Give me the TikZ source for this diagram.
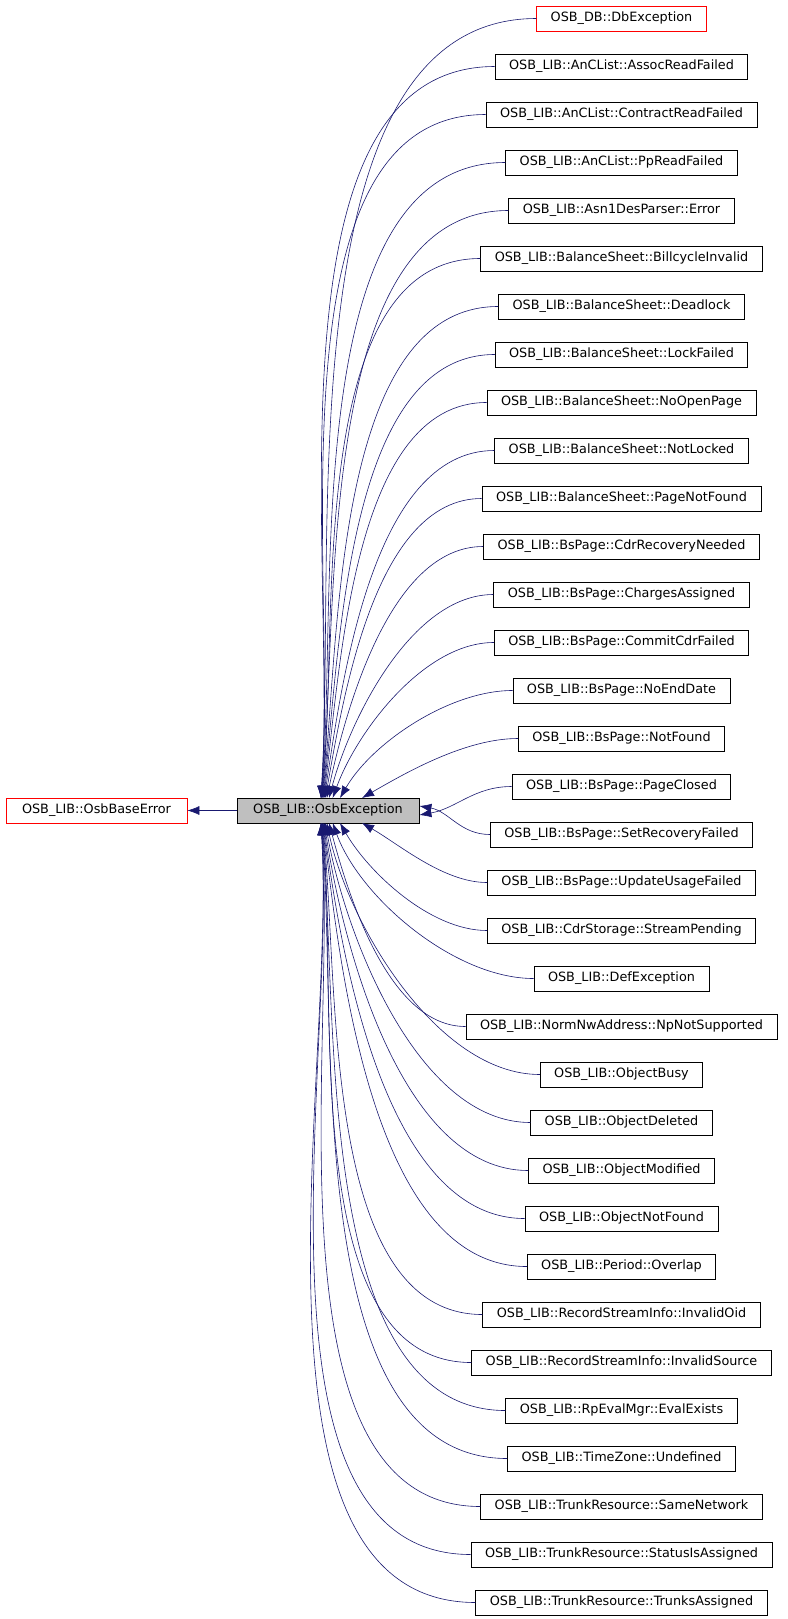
\documentclass[tikz,border=0pt]{standalone}
\usepackage{fontspec}
\setmainfont{DejaVu Sans}
\usetikzlibrary{arrows.meta}
\definecolor{edgec}{HTML}{191970}
\begin{document}
\begin{tikzpicture}[x=1pt,y=-1pt,
  cls/.style={draw=black,fill=white,minimum height=25pt,inner xsep=14pt,inner ysep=0pt,font=\fontsize{12.8}{14}\selectfont,line width=0.8pt},
  redcls/.style={cls,draw=red},
  edge/.style={draw=edgec,line width=0.6pt,{Latex[length=12pt,width=9pt]}-}]
\useasboundingbox (0,0) rectangle (787,1619);
\node[cls,fill=black!25,minimum width=182pt] (osb) at (328,810.5) {OSB\_LIB::OsbException};
\node[redcls,minimum width=181pt] (base) at (96.5,810.5) {OSB\_LIB::OsbBaseError};
\draw[edge] (base) -- (osb);
\foreach \k/\t in {1/OSB\_DB::DbException,
2/OSB\_LIB::AnCList::AssocReadFailed,
3/OSB\_LIB::AnCList::ContractReadFailed,
4/OSB\_LIB::AnCList::PpReadFailed,
5/OSB\_LIB::Asn1DesParser::Error,
6/OSB\_LIB::BalanceSheet::BillcycleInvalid,
7/OSB\_LIB::BalanceSheet::Deadlock,
8/OSB\_LIB::BalanceSheet::LockFailed,
9/OSB\_LIB::BalanceSheet::NoOpenPage,
10/OSB\_LIB::BalanceSheet::NotLocked,
11/OSB\_LIB::BalanceSheet::PageNotFound,
12/OSB\_LIB::BsPage::CdrRecoveryNeeded,
13/OSB\_LIB::BsPage::ChargesAssigned,
14/OSB\_LIB::BsPage::CommitCdrFailed,
15/OSB\_LIB::BsPage::NoEndDate,
16/OSB\_LIB::BsPage::NotFound,
17/OSB\_LIB::BsPage::PageClosed,
18/OSB\_LIB::BsPage::SetRecoveryFailed,
19/OSB\_LIB::BsPage::UpdateUsageFailed,
20/OSB\_LIB::CdrStorage::StreamPending,
21/OSB\_LIB::DefException,
22/OSB\_LIB::NormNwAddress::NpNotSupported,
23/OSB\_LIB::ObjectBusy,
24/OSB\_LIB::ObjectDeleted,
25/OSB\_LIB::ObjectModified,
26/OSB\_LIB::ObjectNotFound,
27/OSB\_LIB::Period::Overlap,
28/OSB\_LIB::RecordStreamInfo::InvalidOid,
29/OSB\_LIB::RecordStreamInfo::InvalidSource,
30/OSB\_LIB::RpEvalMgr::EvalExists,
31/OSB\_LIB::TimeZone::Undefined,
32/OSB\_LIB::TrunkResource::SameNetwork,
33/OSB\_LIB::TrunkResource::StatusIsAssigned,
34/OSB\_LIB::TrunkResource::TrunksAssigned}{
  \pgfmathsetmacro{\yy}{18.5+(\k-1)*48}
  \ifnum\k=1
    \node[redcls] (c\k) at (621.5,\yy) {\t};
  \else
    \node[cls] (c\k) at (621.5,\yy) {\t};
  \fi
  \ifnum\k<17
    \pgfmathsetmacro{\dd}{17-\k}
    \pgfmathsetmacro{\xe}{318+44/\dd}
    \pgfmathsetmacro{\oa}{90-60/\dd}
    \coordinate (e\k) at (\xe,798);
    \draw[edge] (e\k) to[in=180,out=\oa,looseness=0.8] (c\k.west);
  \else\ifnum\k=17
    \draw[edge] ([yshift=-4.5pt]osb.east) to[out=10,in=180] (c\k.west);
  \else\ifnum\k=18
    \draw[edge] ([yshift=4.5pt]osb.east) to[out=-10,in=180] (c\k.west);
  \else
    \pgfmathsetmacro{\dd}{\k-18}
    \pgfmathsetmacro{\xe}{318+44/\dd}
    \pgfmathsetmacro{\oa}{-90+60/\dd}
    \coordinate (e\k) at (\xe,823);
    \draw[edge] (e\k) to[in=180,out=\oa,looseness=0.8] (c\k.west);
  \fi\fi\fi
}
\end{tikzpicture}
\end{document}
